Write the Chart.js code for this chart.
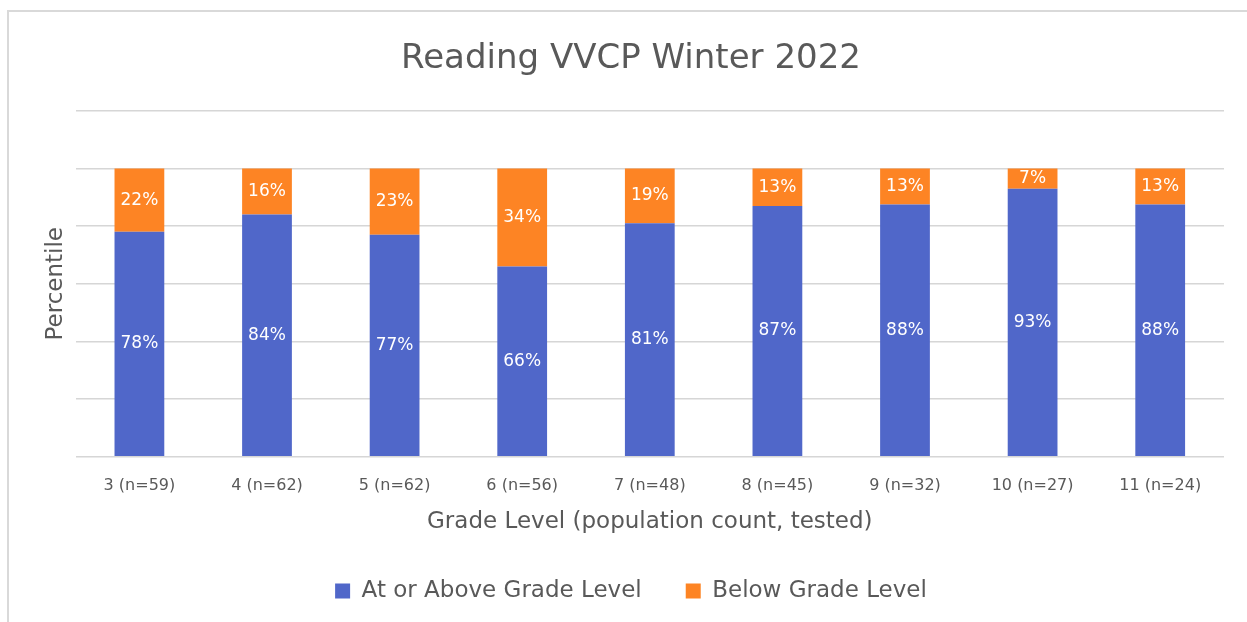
<!DOCTYPE html>
<html>
<head>
<meta charset="utf-8">
<script src="https://cdn.jsdelivr.net/npm/chart.js@4"></script>
<style>
    html, body { margin: 0; padding: 0; background: #ffffff; overflow: hidden; }
    #wrap { position: relative; width: 1247px; height: 622px; }
    #frame {
        position: absolute; left: 7px; top: 10px; right: -10px; bottom: -10px;
        border-top: 2px solid #d9d9d9; border-left: 2px solid #d9d9d9;
    }
    #chart { position: absolute; left: 0; top: 0; }
</style>
</head>
<body>
<div id="wrap">
    <div id="frame"></div>
    <canvas id="chart" width="1247" height="622"></canvas>
</div>
<script>
// Chart data
const grades = ["3 (n=59)", "4 (n=62)", "5 (n=62)", "6 (n=56)", "7 (n=48)", "8 (n=45)", "9 (n=32)", "10 (n=27)", "11 (n=24)"]
const atOrAbove = [78, 84, 77, 66, 81, 87, 87.5, 93, 87.5]
const below = [22, 16, 23, 34, 19, 13, 12.5, 7, 12.5]

const gray = '#595959'
Chart.defaults.font.family = "'DejaVu Sans', sans-serif"
Chart.defaults.color = gray

// Percent labels in the middle of each bar segment
const segmentLabels = {
    id: 'segmentLabels',
    afterDatasetsDraw(chart) {
        const ctx = chart.ctx
        ctx.save()
        ctx.fillStyle = '#ffffff'
        ctx.font = "17px 'DejaVu Sans', sans-serif"
        ctx.textAlign = 'center'
        ctx.textBaseline = 'middle'
        chart.data.datasets.forEach((ds, i) => {
            chart.getDatasetMeta(i).data.forEach((bar, j) => {
                const {x, y, base} = bar.getProps(['x', 'y', 'base'], true)
                ctx.fillText(Math.round(ds.data[j]) + '%', x, (y + base) / 2)
            })
        })
        ctx.restore()
    }
}

const ctx = document.getElementById("chart")
const gradeChart = new Chart(ctx, {
    type: "bar",
    data: {
        labels: grades,
        datasets: [{
            label: "At or Above Grade Level",
            data: atOrAbove,
            backgroundColor: '#5067c9',
            borderWidth: 0,
            barPercentage: 0.39,
            categoryPercentage: 1
        }, {
            label: "Below Grade Level",
            data: below,
            backgroundColor: '#fd8424',
            borderWidth: 0,
            barPercentage: 0.39,
            categoryPercentage: 1
        }]
    },
    options: {
        responsive: false,
        animation: false,
        devicePixelRatio: 1,
        layout: {
            padding: {top: 0, left: 38, right: 23, bottom: 9.5}
        },
        scales: {
            x: {
                stacked: true,
                grid: {display: false, drawTicks: false},
                border: {display: false},
                ticks: {font: {size: 16}, color: gray, padding: 20},
                title: {
                    display: true,
                    text: "Grade Level (population count, tested)",
                    font: {size: 23},
                    color: gray,
                    padding: {top: -8, bottom: 0}
                }
            },
            y: {
                stacked: true,
                min: 0,
                max: 120,
                border: {display: false},
                grid: {color: '#d6d6d6', lineWidth: 1.5, drawTicks: false},
                ticks: {display: false, stepSize: 20},
                title: {
                    display: true,
                    text: "Percentile",
                    font: {size: 23},
                    color: gray,
                    padding: {top: 4, bottom: 6}
                }
            }
        },
        plugins: {
            title: {
                display: true,
                text: "Reading VVCP Winter 2022",
                font: {size: 34, weight: 'normal'},
                color: gray,
                padding: {top: 39, bottom: 31}
            },
            legend: {
                position: 'bottom',
                labels: {
                    boxWidth: 15,
                    boxHeight: 15,
                    padding: 44,
                    font: {size: 23},
                    color: gray
                }
            },
            tooltip: {enabled: false}
        }
    },
    plugins: [segmentLabels]
})
</script>
</body>
</html>
